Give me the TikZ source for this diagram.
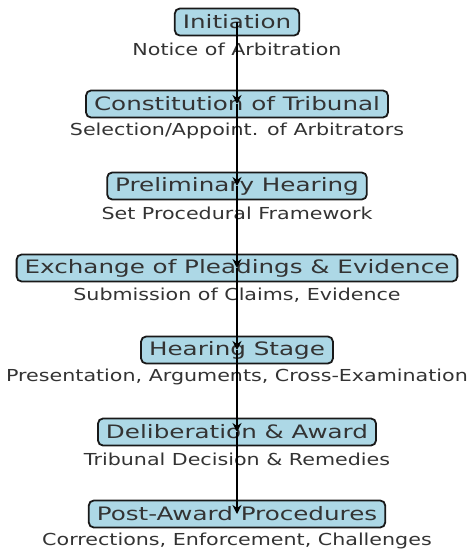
\documentclass[tikz,border=0pt]{standalone}
\usepackage{fontspec}
\setmainfont{DejaVu Sans}
\newfontfamily\titlestretch[FakeStretch=1.33]{DejaVu Sans}
\newfontfamily\notestretch[FakeStretch=1.25]{DejaVu Sans}
\usetikzlibrary{arrows.meta}
\definecolor{boxfill}{HTML}{ADD8E6}
\definecolor{txt}{HTML}{333333}
\begin{document}
\begin{tikzpicture}[x=1pt,y=-1pt,
  stage/.style={draw=black!90, fill=boxfill, rounded corners=5pt, line width=1.8pt,
    inner xsep=8pt, inner ysep=0pt, minimum height=27pt, text=txt,
    font=\titlestretch\fontsize{18.5}{18.5}\selectfont},
  note/.style={text=txt, inner sep=0pt, font=\notestretch\fontsize{16.5}{16.5}\selectfont},
  flow/.style={line width=2.7pt, -{Stealth[length=9pt,width=9pt]}}]
\useasboundingbox (0,0) rectangle (469,552);
\node[stage] (s1) at (237,22)  {Initiation};
\node[note]  (n1) at (237,49)  {Notice of Arbitration};
\node[stage] (s2) at (237,104) {Constitution of Tribunal};
\node[note]  (n2) at (237,131) {Selection/Appoint. of Arbitrators};
\node[stage] (s3) at (237,186) {Preliminary Hearing};
\node[note]  (n3) at (237,213) {Set Procedural Framework};
\node[stage] (s4) at (237,268) {Exchange of Pleadings \& Evidence};
\node[note]  (n4) at (237,295) {Submission of Claims, Evidence};
\node[stage] (s5) at (237,350) {Hearing Stage};
\node[note]  (n5) at (237,377) {Presentation, Arguments, Cross-Examination};
\node[stage] (s6) at (237,432) {Deliberation \& Award};
\node[note]  (n6) at (237,459) {Tribunal Decision \& Remedies};
\node[stage] (s7) at (237,514) {Post-Award Procedures};
\node[note]  (n7) at (237,541) {Corrections, Enforcement, Challenges};
\foreach \a/\b in {s1/s2,s2/s3,s3/s4,s4/s5,s5/s6,s6/s7}
  \draw[flow] (\a.center) -- (\b.center);
\end{tikzpicture}
\end{document}
